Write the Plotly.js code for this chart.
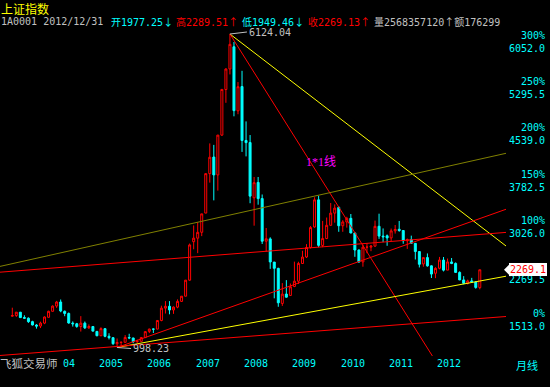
<!DOCTYPE html>
<html><head><meta charset="utf-8">
<script src="https://cdn.plot.ly/plotly-3.0.1.min.js"></script>
<style>html,body{margin:0;padding:0;background:#000;}#chart{width:550px;height:387px;}</style>
</head><body><div id="chart"></div>
<script>
// ---------- data (monthly, Apr 2003 – Dec 2012) ----------
const startYear = 2003, startMonth = 4;
const opens = [1510,1520,1575,1487,1477,1421,1365,1349,1397,
 1492,1590,1676,1742,1590,1555,1397,1386,1341,1396,1320,1341,
 1261,1190,1306,1182,1159,1060,1080,1083,1162,1154,1092,1099,
 1163,1262,1299,1299,1440,1642,1672,1612,1658,1752,1837,2099,
 2728,2786,2882,3196,3841,4112,3820,4471,5216,5552,5915,4868,
 5265,4383,4349,3446,3697,3433,2736,2774,2395,2292,1719,1872,
 1849,1996,2082,2372,2478,2635,2969,3412,2667,2780,2996,3195,
 3289,2989,3051,3110,2871,2592,2398,2638,2639,2656,2980,2820,
 2825,2790,2906,2931,2911,2743,2762,2701,2567,2364,2468,2333,
 2212,2294,2428,2263,2397,2373,2226,2103,2047,2087,2070,1977.25];
const highs = [1649,1576,1580,1525,1490,1435,1380,1420,1506,
 1600,1686,1760,1783,1603,1570,1425,1400,1511,1423,1376,1347,
 1270,1328,1310,1231,1167,1146,1097,1201,1223,1157,1126,1165,
 1262,1306,1307,1445,1682,1757,1757,1670,1785,1840,2100,2698,
 2994,3049,3183,3841,4335,4311,4472,5219,5562,6124.04,5993,5338,
 5522,4695,4472,3786,3786,3500,2952,2800,2395,2302,2051,2100,
 2045,2402,2400,2580,2688,2984,3455,3478,3068,3123,3361,3338,
 3306,3080,3135,3181,2872,2601,2680,2707,2672,3073,3186,2945,
 2846,2943,3001,3067,2916,2780,2827,2707,2574,2470,2536,2341,
 2311,2479,2478,2453,2461,2389,2243,2165,2108,2137,2085,2269.51];
const lows = [1501,1498,1480,1470,1400,1358,1307,1316,1380,
 1490,1588,1646,1575,1510,1387,1340,1321,1259,1300,1302,1259,
 1181,1188,1166,1130,1043,998.23,1004,1080,1135,1067,1074,1096,
 1151,1234,1235,1298,1427,1554,1541,1548,1640,1744,1836,2091,
 2604,2541,2819,3196,3694,3404,3563,4458,4999,5463,4778,4812,
 4196,4123,3357,2990,3333,2691,2566,2284,1802,1664,1678,1814,
 1845,1985,2037,2370,2461,2617,2957,2639,2639,2770,2991,3039,
 2890,2890,2958,2865,2481,2382,2319,2540,2573,2645,2774,2721,
 2661,2734,2861,2890,2695,2610,2694,2437,2307,2319,2320,2134,
 2132,2277,2242,2263,2361,2222,2100,2032,2029,2060,1959,1949.46];
const closes = [1521,1576,1487,1477,1421,1367,1348,1397,1497,
 1590,1675,1742,1595,1555,1399,1386,1342,1396,1320,1340,1266,
 1191,1306,1181,1159,1060,1080,1083,1162,1155,1092,1099,1161,
 1258,1299,1298,1440,1641,1672,1612,1658,1752,1837,2099,2675,
 2786,2881,3183,3841,4109,3820,4471,5218,5552,5955,4871,5262,
 4383,4348,3473,3693,3433,2736,2776,2397,2293,1729,1871,1821,
 1991,2082,2373,2477,2633,2959,3412,2668,2779,2996,3195,3277,
 2989,3051,3110,2871,2592,2398,2638,2639,2656,2979,2820,2808,
 2790,2905,2928,2911,2743,2762,2701,2567,2359,2468,2333,2199,
 2292,2428,2263,2397,2373,2226,2103,2047,2086,2069,1980,2269.13];

const yearTickMonths = ['2004-01','2005-01','2006-01','2007-01','2008-01','2009-01','2010-01','2011-01','2012-01'];
const yearTickText = ['04','2005','2006','2007','2008','2009','2010','2011','2012'];
const priceTicks = [1513.0, 2269.5, 3026.0, 3782.5, 4539.0, 5295.5, 6052.0];
const priceTickText = ['1513.0','2269.5','3026.0','3782.5','4539.0','5295.5','6052.0'];
const pctTickText = ['0%','','100%','150%','200%','250%','300%'];

const highLabel = {month:'2007-10', value:6124.04, text:'6124.04'};
const lowLabel = {month:'2005-06', value:998.23, text:'998.23'};
const lastClose = 2269.13, lastCloseText = '2269.1';

const titleText = '上证指数';
const infoCode = '1A0001 2012/12/31';
const infoParts = ['开1977.25↓','高2289.51↑','低1949.46↓','收2269.13↑','量2568357120↑额176299'];
const gannLabel = '1*1线';
const periodLabel = '月线';
const brandLabel = '飞狐交易师';

// trend lines (drawing-tool anchors: month index, value)
const lineX0 = [54, 54, 26, 26, -4, -4, -4];
const lineY0 = [6124.04, 6124.04, 998.23, 998.23, 2224.5, 2310.2, 862.6];
const lineX1 = [124, 106, 124, 124, 124, 124, 124];
const lineY1 = [2582.0, 674.4, 2182.1, 3293.4, 2887.9, 4195.5, 1512.6];
const gannAt = [76.6, 4031];

// ---------- layout / styling ----------
const lineColors = ['#ffff00','#ff0000','#ffff00','#ff0000','#ff0000','#808000','#ff0000'];
const W = 550, H = 387, ML = 0, MR = 44, MT = 20, MB = 31;
const PW = W - ML - MR, PH = H - MT - MB, PB = MT + PH;
const xp = px => (px - ML) / PW;
const yp = py => (PB - py) / PH;
const MONO = 'DejaVu Sans Mono, Noto Sans CJK SC, monospace';
const CYAN = '#00ffff', RED = '#ff0000', GRAY = '#c0c0c0';
const bigArrows = t => t.replace(/([↑↓])/g, '<span style="font-family:Noto Sans CJK SC">$1</span>');

const months = [];
for (let i = 0; i < opens.length; i++) {
  const m = startMonth - 1 + i;
  const y = startYear + Math.floor(m / 12);
  const mm = (m % 12) + 1;
  months.push(y + '-' + (mm < 10 ? '0' : '') + mm);
}
const idx = months.map((m, i) => i);
const monthIndex = m => months.indexOf(m);

const traces = [{
  type: 'candlestick', x: idx, open: opens, high: highs, low: lows, close: closes,
  increasing: {line: {color: RED, width: 1}, fillcolor: '#000000'},
  decreasing: {line: {color: CYAN, width: 1}, fillcolor: CYAN},
  whiskerwidth: 0, hoverinfo: 'skip', showlegend: false
}];
for (let k = 0; k < lineX0.length; k++) {
  traces.push({type: 'scatter', mode: 'lines', x: [lineX0[k], lineX1[k]], y: [lineY0[k], lineY1[k]],
    line: {color: lineColors[k], width: 1}, hoverinfo: 'skip', showlegend: false});
}

const ann = [];
// header
ann.push({xref:'paper', yref:'paper', x:xp(1), y:yp(8.5), xanchor:'left', yanchor:'middle', showarrow:false,
  borderpad:0, borderwidth:0,
  text:titleText, font:{family:'Noto Sans CJK SC', size:12, color:'#ffff00'}});
ann.push({xref:'paper', yref:'paper', x:xp(-1), y:yp(21.3), xanchor:'left', yanchor:'middle', showarrow:false,
  text:infoCode, font:{family:MONO, size:10, color:GRAY}});
const partX = [109, 174, 240, 306, 372];
const partC = [CYAN, RED, CYAN, RED, GRAY];
infoParts.forEach((t, i) => ann.push({xref:'paper', yref:'paper', x:xp(partX[i]), y:yp(21.3), xanchor:'left', yanchor:'middle',
  showarrow:false, text:bigArrows(t), font:{family:MONO, size:10, color:partC[i]}}));
// right price / percent labels
priceTicks.forEach((v, i) => {
  if (pctTickText[i]) ann.push({xref:'paper', yref:'y', x:xp(547), y:v, xanchor:'right', yanchor:'middle', yshift:3, showarrow:false,
    text:pctTickText[i], font:{family:MONO, size:10, color:CYAN}});
  ann.push({xref:'paper', yref:'y', x:xp(547), y:v, xanchor:'right', yanchor:'middle', yshift:-10, showarrow:false,
    text:priceTickText[i], font:{family:MONO, size:10, color:CYAN}});
});
// year labels
yearTickMonths.forEach((m, k) => {
  const t = yearTickText[k];
  ann.push({xref:'x', yref:'paper', x:monthIndex(m), y:yp(363.3), xanchor:'left', yanchor:'middle', showarrow:false,
    xshift:(4 - t.length) * 6, text:t, font:{family:MONO, size:10, color:CYAN}});
});
ann.push({xref:'paper', yref:'paper', x:xp(-1), y:yp(363.3), xanchor:'left', yanchor:'middle', showarrow:false,
  borderpad:0, text:brandLabel, font:{family:'Noto Sans CJK SC', size:11.5, color:GRAY}});
ann.push({xref:'paper', yref:'paper', x:xp(527), y:yp(365), xanchor:'center', yanchor:'middle', showarrow:false,
  text:periodLabel, font:{family:'Noto Sans CJK SC', size:11, color:CYAN}});
// high / low markers
ann.push({xref:'x', yref:'y', x:monthIndex(highLabel.month), y:highLabel.value, text:highLabel.text, showarrow:true,
  arrowhead:0, arrowwidth:1, arrowcolor:GRAY, ax:17, ay:-2, xanchor:'left', yanchor:'middle', standoff:0,
  font:{family:MONO, size:10, color:GRAY}});
ann.push({xref:'x', yref:'y', x:monthIndex(lowLabel.month), y:lowLabel.value, text:lowLabel.text, showarrow:true,
  arrowhead:0, arrowwidth:1, arrowcolor:GRAY, ax:14, ay:1, xanchor:'left', yanchor:'middle', standoff:0,
  font:{family:MONO, size:10, color:GRAY}});
// gann label
ann.push({xref:'x', yref:'y', x:gannAt[0], y:gannAt[1], text:gannLabel, showarrow:false,
  font:{family:'Liberation Serif, Noto Sans CJK SC', size:12, color:'#ff00ff'}});
// last close tag
ann.push({xref:'paper', yref:'y', x:xp(547), y:lastClose, xanchor:'right', yanchor:'middle', showarrow:false,
  text:lastCloseText, bgcolor:'#ffffff', borderpad:0, borderwidth:1, bordercolor:'#ffffff',
  font:{family:MONO, size:10, color:RED}});

// y range from pixel anchors of the peak and trough
const yTop = 6352.9, yBot = 859.2;
const xLeft = -3.052, xRight = 122.5;
const unitPerPx = (yTop - yBot) / PH;
const tri = 5 * unitPerPx;
const shapes = [{type:'path', xref:'paper', yref:'y',
  path:`M ${xp(504)},${lastClose} L ${xp(509)},${lastClose + tri} L ${xp(509)},${lastClose - tri} Z`,
  fillcolor:'#ffffff', line:{width:0}}];

const layout = {
  width: W, height: H, margin: {l: ML, r: MR, t: MT, b: MB, pad: 0},
  paper_bgcolor: '#000000', plot_bgcolor: '#000000',
  showlegend: false, hovermode: false, boxgap: 0.3, boxgroupgap: 0.3,
  xaxis: {range: [xLeft, xRight], showgrid: false, zeroline: false, showticklabels: false, showline: false,
    ticks: '', rangeslider: {visible: false}, fixedrange: true},
  yaxis: {range: [yBot, yTop], showgrid: false, zeroline: false, showticklabels: false, showline: false,
    ticks: '', fixedrange: true},
  annotations: ann, shapes: shapes
};
Plotly.newPlot('chart', traces, layout, {staticPlot: true, displayModeBar: false});
</script></body></html>
